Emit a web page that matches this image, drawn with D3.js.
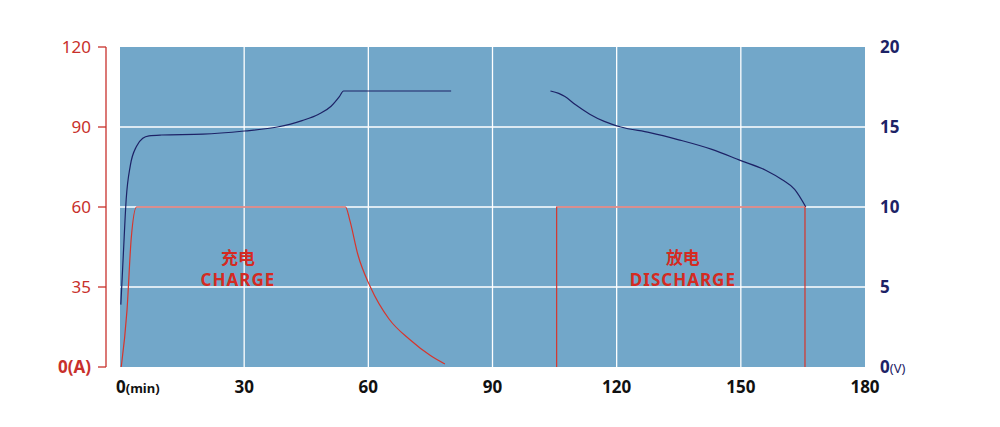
<!DOCTYPE html>
<html><head><meta charset="utf-8">
<script src="https://cdn.jsdelivr.net/npm/d3@7"></script>
<style>body{margin:0;background:#fff}text{font-family:"Noto Sans","Noto Sans CJK SC",sans-serif}</style>
</head><body><svg id="c" width="1000" height="427"></svg>
<script>
var xTicks = [0, 30, 60, 90, 120, 150, 180];
var ampTicks = [0, 35, 60, 90, 120];
var voltTicks = [0, 5, 10, 15, 20];

// voltage curve, charge part [min, V]
var voltCharge = [[0.2,3.9],[0.8,7],[1.5,10.5],[2.5,12.6],[4,13.8],[5.5,14.3],[7,14.45],[10,14.5],[20,14.55],[30,14.75],[38,15],[44,15.4],[48,15.8],[51,16.3],[53,16.9],[54,17.25],[60,17.25],[70,17.25],[80,17.25]];
// voltage curve, discharge part
var voltDischarge = [[104,17.25],[106,17.1],[107.5,16.9],[110,16.4],[113.5,15.8],[117,15.35],[121,15],[128,14.65],[135,14.2],[143,13.6],[150,12.9],[156,12.3],[160,11.7],[163,11.1],[165.7,10]];
// current curve, charge part [min, A]
var ampCharge = [[0.3,0],[1.7,25],[2.7,50],[4,60],[54.5,60],[55.5,56],[57.5,45],[60.5,35],[65,21],[70,12],[75,5],[78.5,1.3]];
var ampDischarge = [[105.5,0],[105.5,60],[165.5,60],[165.5,0]];

var svg = d3.select('#c');
var x = d3.scaleLinear().domain([0, 180]).range([120, 865]);
var yV = d3.scaleLinear().domain([0, 20]).range([367, 47]);
var yA = d3.scaleLinear().domain(ampTicks).range([367, 287, 207, 127, 47]);

svg.append('rect').attr('x', x(0)).attr('y', yV(20)).attr('width', x(180) - x(0)).attr('height', yV(0) - yV(20)).attr('fill', '#72a7c9');

svg.selectAll('.gx').data(xTicks.slice(1, -1)).enter().append('line')
    .attr('x1', function(d) {return x(d);}).attr('x2', function(d) {return x(d);})
    .attr('y1', yV(20)).attr('y2', yV(0)).attr('stroke', '#fff').attr('stroke-width', 1.3);
svg.selectAll('.gy').data(voltTicks.slice(1, -1)).enter().append('line')
    .attr('x1', x(0)).attr('x2', x(180))
    .attr('y1', function(d) {return yV(d);}).attr('y2', function(d) {return yV(d);})
    .attr('stroke', '#fff').attr('stroke-width', 1.3);

// left axis
svg.append('line').attr('x1', 106).attr('x2', 106).attr('y1', 47).attr('y2', 367).attr('stroke', '#c8302b').attr('stroke-width', 1.3);
svg.selectAll('.ta').data(ampTicks).enter().append('line')
    .attr('x1', 98).attr('x2', 106).attr('y1', function(d) {return yA(d);}).attr('y2', function(d) {return yA(d);})
    .attr('stroke', '#c8302b').attr('stroke-width', 1.3);
svg.selectAll('.la').data(ampTicks).enter().append('text')
    .attr('x', 91).attr('y', function(d) {return yA(d) + 6;}).attr('text-anchor', 'end')
    .attr('fill', '#c8302b').attr('font-size', 17).attr('font-weight', function(d) {return d === 0 ? 'bold' : 'normal';})
    .text(function(d) {return d === 0 ? '0(A)' : d;});

// right labels
svg.selectAll('.lv').data(voltTicks).enter().append('text')
    .attr('x', 880).attr('y', function(d) {return yV(d) + 6;})
    .attr('fill', '#1d2266').attr('font-size', 17).attr('font-weight', 'bold')
    .each(function(d) {
        var t = d3.select(this);
        t.append('tspan').text(d);
        if (d === 0) t.append('tspan').attr('font-size', 13).attr('font-weight', 'normal').text('(V)');
    });

// x labels
svg.selectAll('.lx').data(xTicks).enter().append('text')
    .attr('x', function(d) {return d === 0 ? x(0) - 4 : x(d);}).attr('y', 393)
    .attr('text-anchor', function(d) {return d === 0 ? 'start' : 'middle';})
    .attr('fill', '#111').attr('font-size', 17).attr('font-weight', 'bold')
    .each(function(d) {
        var t = d3.select(this);
        t.append('tspan').text(d);
        if (d === 0) t.append('tspan').attr('font-size', 13).text('(min)');
    });

var lineV = d3.line().curve(d3.curveMonotoneX).x(function(d) {return x(d[0]);}).y(function(d) {return yV(d[1]);});
var lineA = d3.line().x(function(d) {return x(d[0]);}).y(function(d) {return yA(d[1]);});
var lineAs = d3.line().curve(d3.curveMonotoneX).x(function(d) {return x(d[0]);}).y(function(d) {return yA(d[1]);});

[voltCharge, voltDischarge].forEach(function(s) {
    svg.append('path').attr('d', lineV(s)).attr('fill', 'none').attr('stroke', '#1d2266').attr('stroke-width', 1.2);
});
svg.append('path').attr('d', lineAs(ampCharge)).attr('fill', 'none').attr('stroke', '#d7352c').attr('stroke-width', 1.2);
svg.append('path').attr('d', lineA(ampDischarge)).attr('fill', 'none').attr('stroke', '#d7352c').attr('stroke-width', 1.2);

var labels = [{t: 28.5, a: ['充电', 'CHARGE']}, {t: 136, a: ['放电', 'DISCHARGE']}];
labels.forEach(function(l) {
    svg.append('text').attr('x', x(l.t)).attr('y', 264).attr('text-anchor', 'middle')
        .attr('fill', '#d52a22').attr('font-size', 17).attr('font-weight', 'bold').text(l.a[0]);
    svg.append('text').attr('x', x(l.t)).attr('y', 286).attr('text-anchor', 'middle')
        .attr('fill', '#d52a22').attr('font-size', 17).attr('font-weight', 'bold').attr('letter-spacing', 1).text(l.a[1]);
});
</script></body></html>
